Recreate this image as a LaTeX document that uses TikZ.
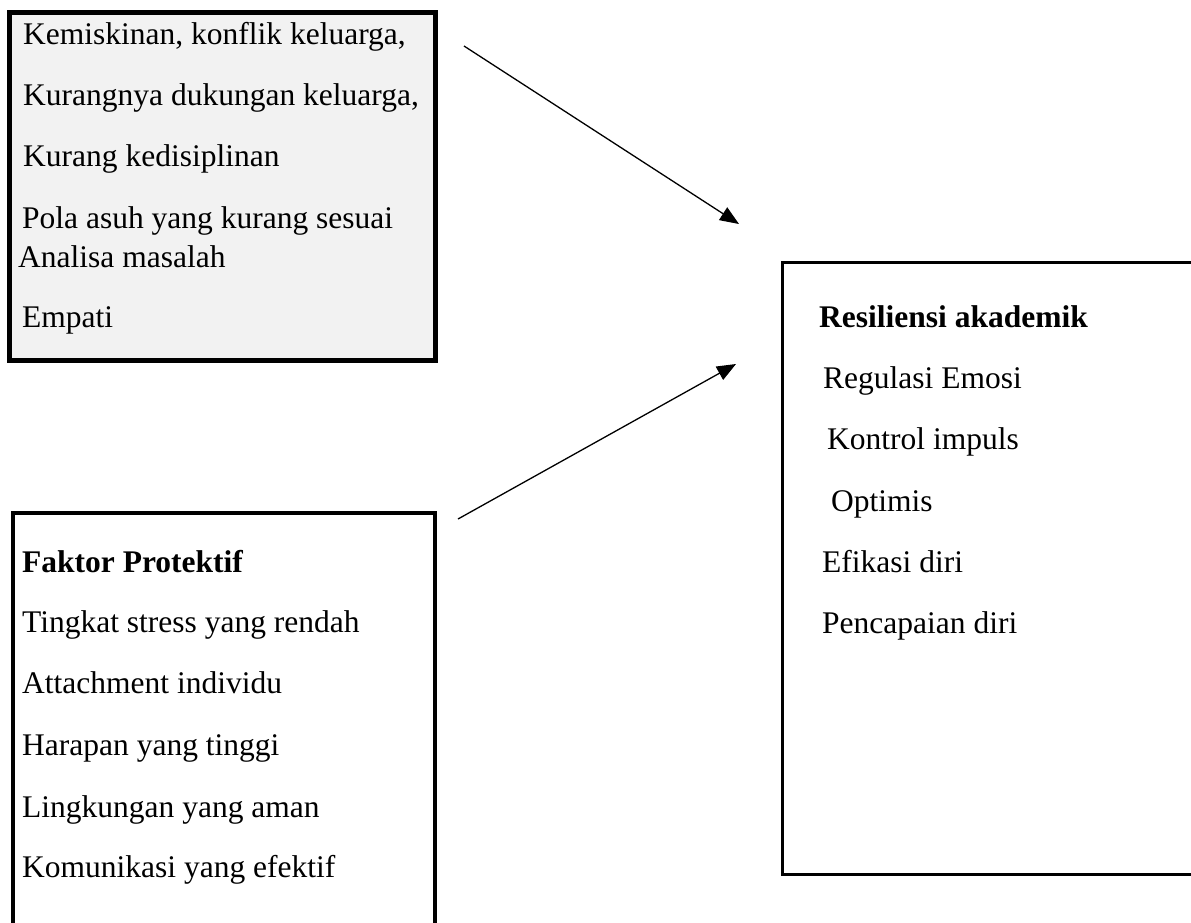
\documentclass[tikz,border=0pt]{standalone}
\usepackage{fontspec}
\setmainfont{Liberation Serif}
\usetikzlibrary{arrows.meta}
\definecolor{boxgray}{HTML}{F2F2F2}
\tikzset{
  txt/.style={anchor=base west, inner sep=0pt, font=\fontsize{31.5}{36}\selectfont},
  btxt/.style={txt, font=\fontsize{31.5}{36}\selectfont\bfseries},
  thickbox/.style={draw=black, line width=4.5pt, inner sep=0pt, rectangle},
  thinbox/.style={draw=black, line width=3pt, inner sep=0pt, rectangle, fill=white},
  conn/.style={line width=1.3pt, -{Triangle[length=19pt,width=15pt]}}
}
\begin{document}
\begin{tikzpicture}[x=1pt,y=-1pt]
\useasboundingbox (0,0) rectangle (1191,922);
\clip (0,0) rectangle (1191,922);
% boxes
\node[thickbox, fill=boxgray, minimum width=426pt, minimum height=348pt] (risk) at (222.5,186.5) {};
\node[thickbox, fill=white, minimum width=422pt, minimum height=430pt] (prot) at (224,728) {};
\node[thinbox, minimum width=440pt, minimum height=612pt] (res) at (1002,568) {};
% top-left texts
\node[txt] (r1) at (23,44) {Kemiskinan, konflik keluarga,};
\node[txt] (r2) at (23,105) {Kurangnya dukungan keluarga,};
\node[txt] (r3) at (23,166) {Kurang kedisiplinan};
\node[txt] (r4) at (22,228) {Pola asuh yang kurang sesuai};
\node[txt] (r5) at (18,267) {Analisa masalah};
\node[txt] (r6) at (22,327) {Empati};
% bottom-left texts
\node[btxt] (p0) at (22,572) {Faktor Protektif};
\node[txt] (p1) at (22,632) {Tingkat stress yang rendah};
\node[txt] (p2) at (22,693) {Attachment individu};
\node[txt] (p3) at (22,755) {Harapan yang tinggi};
\node[txt] (p4) at (22,817) {Lingkungan yang aman};
\node[txt] (p5) at (22,877) {Komunikasi yang efektif};
% right texts
\node[btxt] (a0) at (819,327) {Resiliensi akademik};
\node[txt] (a1) at (823,388) {Regulasi Emosi};
\node[txt] (a2) at (827,449) {Kontrol impuls};
\node[txt] (a3) at (831,511) {Optimis};
\node[txt] (a4) at (822,572) {Efikasi diri};
\node[txt] (a5) at (822,633) {Pencapaian diri};
% connectors
\coordinate (s1) at (464,46);
\coordinate (e1) at (739,224);
\coordinate (s2) at (458,519);
\coordinate (e2) at (736,364);
\draw[conn] (s1) -- (e1);
\draw[conn] (s2) -- (e2);
\end{tikzpicture}
\end{document}
